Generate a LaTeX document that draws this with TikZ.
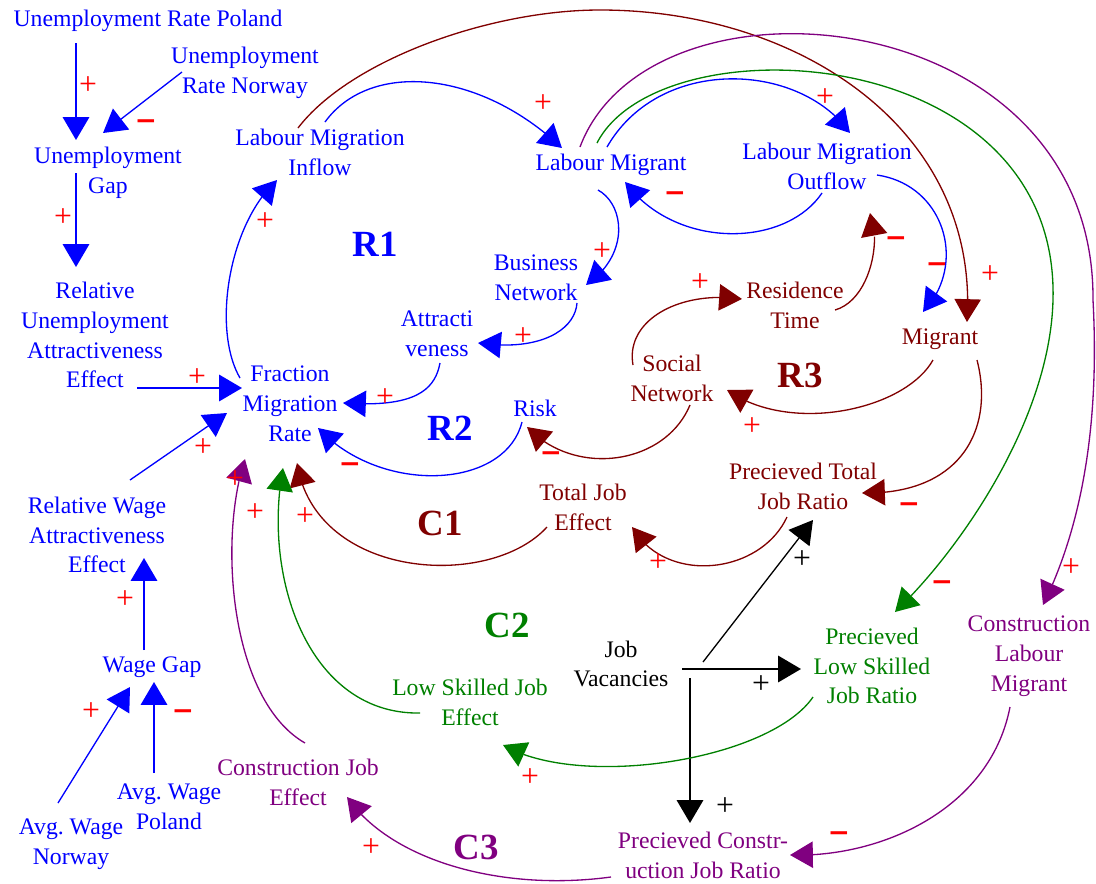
\documentclass[tikz,border=0pt]{standalone}
\usepackage{fontspec}
\setmainfont{Liberation Serif}
\newfontfamily\signfont{DejaVu Sans}
\usetikzlibrary{arrows.meta,bending,calc}
\definecolor{cdblue}{RGB}{0,0,255}
\definecolor{cdbrown}{RGB}{128,0,0}
\definecolor{cdgreen}{RGB}{0,128,0}
\definecolor{cdpurple}{RGB}{128,0,128}
\definecolor{cdred}{RGB}{255,0,0}

\begin{document}
\begin{tikzpicture}[x=0.02cm,y=-0.02cm,
  lbl/.style={align=center,inner sep=0pt,font=\fontsize{13.5}{17}\selectfont},
  looplbl/.style={inner sep=0pt,font=\fontsize{21}{21}\selectfont\bfseries},
  plus/.style={inner sep=0pt,text=cdred,font=\fontsize{18}{18}\selectfont},
  minus/.style={inner sep=0pt,text=cdred,font=\signfont\bfseries\fontsize{15}{15}\selectfont},
  link/.style={line width=0.75pt,-{Triangle[length=13pt,width=15pt]}},
  heavylink/.style={link,line width=1.1pt},
]
\useasboundingbox (0,0) rectangle (1096,883);

% ---------- variables ----------
\begin{scope}[every node/.append style={text=cdblue}]
\node[lbl] (UP)   at (148,21)  {Unemployment Rate Poland};
\node[lbl] (UN)   at (245,73)  {Unemployment\\Rate Norway};
\node[lbl] (UG)   at (108,173) {Unemployment\\Gap};
\node[lbl] (RUAE) at (95,335)  {Relative\\Unemployment\\Attractiveness\\Effect};
\node[lbl] (RWAE) at (97,535)  {Relative Wage\\Attractiveness\\Effect};
\node[lbl] (WG)   at (152,667) {Wage Gap};
\node[lbl] (AWP)  at (169,807) {Avg.\ Wage\\Poland};
\node[lbl] (AWN)  at (71,844)  {Avg.\ Wage\\Norway};
\node[lbl] (LMI)  at (320,152) {Labour Migration\\Inflow};
\node[lbl] (LM)   at (611,165) {Labour Migrant};
\node[lbl] (LMO)  at (827,166) {Labour Migration\\Outflow};
\node[lbl] (BN)   at (536,278) {Business\\Network};
\node[lbl] (ATT)  at (437,334) {Attracti\\veness};
\node[lbl] (FMR)  at (290,404) {Fraction\\Migration\\Rate};
\node[lbl] (Risk) at (535,408) {Risk};
\node[looplbl] (R1) at (375,244) {R1};
\node[looplbl] (R2) at (450,428) {R2};
\end{scope}

\begin{scope}[every node/.append style={text=cdbrown}]
\node[lbl] (RT)   at (795,305) {Residence\\Time};
\node[lbl] (Mig)  at (940,339) {Migrant};
\node[lbl] (SN)   at (672,378) {Social\\Network};
\node[lbl] (PTJR) at (803,486) {Precieved Total\\Job Ratio};
\node[lbl] (TJE)  at (583,507) {Total Job\\Effect};
\node[looplbl] (R3) at (800,375) {R3};
\node[looplbl] (C1) at (440,523) {C1};
\end{scope}

\begin{scope}[every node/.append style={text=cdgreen}]
\node[lbl] (PLSJR) at (872,666) {Precieved\\Low Skilled\\Job Ratio};
\node[lbl] (LSJE)  at (470,702) {Low Skilled Job\\Effect};
\node[looplbl] (C2) at (507,625) {C2};
\end{scope}

\begin{scope}[every node/.append style={text=cdpurple}]
\node[lbl] (CLM)  at (1029,656) {Construction\\Labour\\Migrant};
\node[lbl] (CJE)  at (298,782)  {Construction Job\\Effect};
\node[lbl] (PCJR) at (703,855)  {Precieved Constr-\\uction Job Ratio};
\node[looplbl] (C3) at (476,847) {C3};
\end{scope}

\node[lbl] (JV) at (621,664) {Job\\Vacancies};

% ---------- blue links ----------
\begin{scope}[cdblue]
\draw[heavylink] ($(UP)+(-72,22)$) -- ($(UG)+(-32,-33)$);
\draw[link] ($(UN)+(-63,-1)$) -- ($(UG)+(-5,-40)$);
\draw[heavylink] ($(UG)+(-32,0)$) -- ($(RUAE)+(-19,-68)$);
\draw[heavylink] ($(RUAE)+(42,53)$) -- ($(FMR)+(-48,-16)$);
\draw[link] ($(RWAE)+(33,-55)$) -- ($(FMR)+(-63,9)$);
\draw[heavylink] ($(WG)+(-8,-17)$) -- ($(RWAE)+(47,23)$);
\draw[link] ($(AWN)+(-13,-41)$) -- ($(WG)+(-22,20)$);
\draw[heavylink] ($(AWP)+(-15,-34)$) -- ($(WG)+(2,15)$);
\draw[link] ($(FMR)+(-50,-26)$) .. controls (212,330) and (228,225) .. ($(LMI)+(-43,28)$);
\draw[link] ($(LMI)+(5,-30)$) .. controls (370,60) and (480,70) .. ($(LM)+(-49,-17)$);
\draw[link] ($(LM)+(-4,-18)$) .. controls (660,55) and (800,62) .. ($(LMO)+(23,-33)$);
\draw[link] ($(LMO)+(-5,27)$) .. controls (785,248) and (675,250) .. ($(LM)+(14,17)$);
\draw[link] ($(LM)+(-13,25)$) .. controls (625,205) and (630,255) .. ($(BN)+(50,7)$);
\draw[link] ($(BN)+(41,25)$) .. controls (575,330) and (540,352) .. ($(ATT)+(41,9)$);
\draw[link] ($(ATT)+(3,29)$) .. controls (435,390) and (415,408) .. ($(FMR)+(53,-1)$);
\draw[link] ($(LMO)+(50,9)$) .. controls (945,185) and (968,265) .. ($(Mig)+(-17,-27)$);
\draw[link] ($(Risk)+(-13,14)$) .. controls (505,490) and (380,495) .. ($(FMR)+(28,24)$);
\end{scope}

% ---------- brown links ----------
\begin{scope}[cdbrown]
\draw[link] ($(LMI)+(-22,-24)$) .. controls (350,60) and (490,10) .. (600,10)
            .. controls (800,10) and (980,130) .. ($(Mig)+(27,-17)$);
\draw[link] ($(RT)+(40,5)$) .. controls (870,300) and (882,240) .. ($(LMO)+(43,47)$);
\draw[link] ($(SN)+(-39,-13)$) .. controls (625,320) and (680,290) .. ($(RT)+(-53,-6)$);
\draw[link] ($(Mig)+(-7,21)$) .. controls (905,410) and (790,435) .. ($(SN)+(55,12)$);
\draw[link] ($(SN)+(18,27)$) .. controls (665,465) and (575,478) .. ($(Risk)+(-8,19)$);
\draw[link] ($(Mig)+(37,21)$) .. controls (995,430) and (960,495) .. ($(PTJR)+(59,7)$);
\draw[link] ($(PTJR)+(-16,31)$) .. controls (760,575) and (665,585) .. ($(TJE)+(49,20)$);
\draw[link] ($(TJE)+(-36,20)$) .. controls (490,590) and (315,580) .. ($(FMR)+(7,59)$);
\end{scope}

% ---------- black links ----------
\draw[link] ($(JV)+(82,-2)$) -- ($(PTJR)+(10,34)$);
\draw[heavylink] ($(JV)+(61,5)$) -- ($(PLSJR)+(-71,3)$);
\draw[heavylink] ($(JV)+(69,14)$) -- ($(PCJR)+(-13,-32)$);

% ---------- green links ----------
\begin{scope}[cdgreen]
\draw[link] ($(LM)+(-14,-22)$) .. controls (660,20) and (1060,40) .. (1053,300)
            .. controls (1050,420) and (960,550) .. ($(PLSJR)+(23,-54)$);
\draw[link] ($(PLSJR)+(-59,31)$) .. controls (770,760) and (580,790) .. ($(LSJE)+(33,43)$);
\draw[link] ($(LSJE)+(-50,11)$) .. controls (310,715) and (262,580) .. ($(FMR)+(-7,64)$);
\end{scope}

% ---------- purple links ----------
\begin{scope}[cdpurple]
\draw[link] ($(LM)+(-31,-18)$) .. controls (650,-40) and (1095,0) .. (1093,300)
            .. controls (1100,430) and (1080,530) .. ($(CLM)+(14,-51)$);
\draw[link] ($(CLM)+(-19,51)$) .. controls (990,810) and (880,858) .. ($(PCJR)+(87,0)$);
\draw[link] ($(PCJR)+(-92,22)$) .. controls (500,892) and (390,860) .. ($(CJE)+(49,15)$);
\draw[link] ($(CJE)+(7,-39)$) .. controls (230,700) and (218,540) .. ($(FMR)+(-45,55)$);
\end{scope}

% ---------- polarities ----------
\node[plus]  (s1)  at (88,86)   {+};
\node[minus] (s2)  at (146,125) {−};
\node[plus]  (s3)  at (63,218)  {+};
\node[plus]  (s4)  at (197,378) {+};
\node[plus]  (s5)  at (203,448) {+};
\node[plus]  (s6)  at (125,600) {+};
\node[plus]  (s7)  at (91,712)  {+};
\node[minus] (s8)  at (183,715) {−};
\node[plus]  (s9)  at (265,222) {+};
\node[plus]  (s10) at (543,104) {+};
\node[plus]  (s11) at (825,98)  {+};
\node[minus] (s12) at (675,197) {−};
\node[plus]  (s13) at (602,252) {+};
\node[plus]  (s14) at (523,337) {+};
\node[plus]  (s15) at (385,398) {+};
\node[minus] (s16) at (937,268) {−};
\node[plus]  (s17) at (990,275) {+};
\node[minus] (s18) at (350,468) {−};
\node[minus] (s19) at (896,242) {−};
\node[plus]  (s20) at (700,283) {+};
\node[plus]  (s21) at (752,427) {+};
\node[minus] (s22) at (551,457) {−};
\node[minus] (s23) at (909,508) {−};
\node[plus]  (s24) at (658,563) {+};
\node[plus]  (s25) at (305,517) {+};
\node[plus,text=black] (s26) at (802,560) {+};
\node[plus,text=black] (s27) at (761,685) {+};
\node[plus,text=black] (s28) at (725,807) {+};
\node[minus] (s29) at (942,586) {−};
\node[plus]  (s30) at (1071,568) {+};
\node[plus]  (s31) at (530,778) {+};
\node[plus]  (s32) at (255,513) {+};
\node[minus] (s33) at (839,837) {−};
\node[plus]  (s34) at (371,848) {+};
\node[plus]  (s35) at (235,480) {+};
\end{tikzpicture}
\end{document}
